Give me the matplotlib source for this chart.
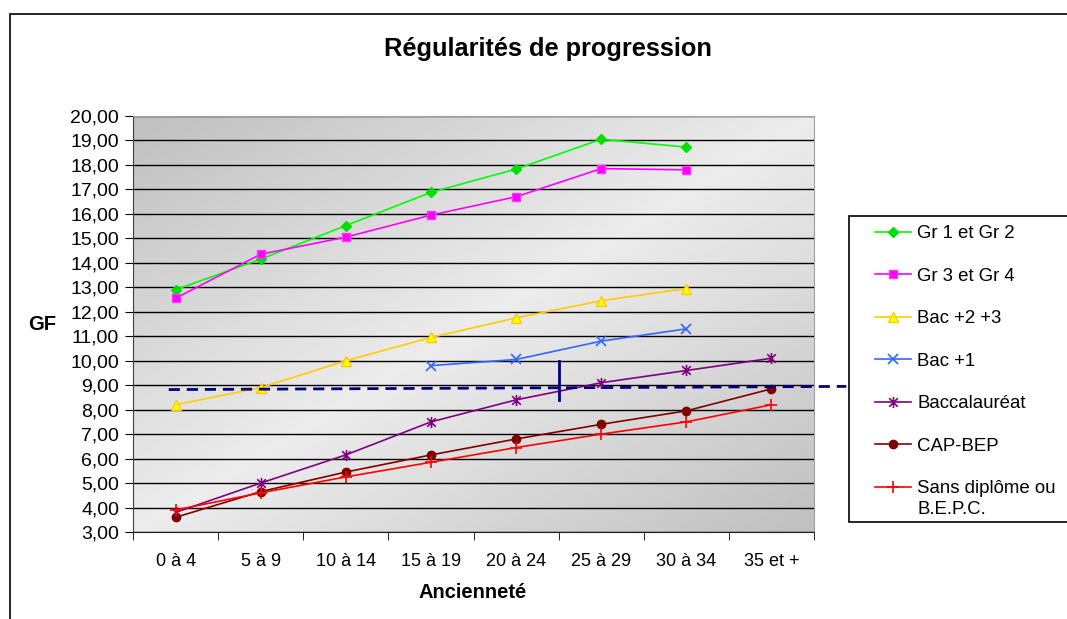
import numpy as np
import matplotlib
matplotlib.use('Agg')
import matplotlib.pyplot as plt
from matplotlib.path import Path
from matplotlib.patches import Rectangle
from matplotlib.ticker import FuncFormatter, MultipleLocator

plt.rcParams['font.family'] = ['Liberation Sans', 'DejaVu Sans']

# donnees
categories = ['0 à 4', '5 à 9', '10 à 14', '15 à 19', '20 à 24', '25 à 29', '30 à 34', '35 et +']
gr12 = [12.90, 14.15, 15.52, 16.88, 17.83, 19.05, 18.73, None]
gr34 = [12.55, 14.35, 15.05, 15.95, 16.70, 17.85, 17.80, None]
bac23 = [8.20, 8.90, 10.00, 10.95, 11.75, 12.45, 12.95, None]
bac1 = [None, None, None, 9.80, 10.05, 10.80, 11.30, None]
bacca = [3.80, 5.00, 6.15, 7.50, 8.40, 9.10, 9.60, 10.10]
capbep = [3.60, 4.65, 5.45, 6.15, 6.80, 7.40, 7.95, 8.85]
sansdip = [3.90, 4.60, 5.25, 5.85, 6.45, 7.00, 7.50, 8.20]

# ligne pointillee et trait vertical
seuil_x = [-0.08, 7.88]
seuil_y = [8.82, 8.95]
trait_x = 4.5
trait_y = [8.38, 10.0]

# marqueur etoile facon Excel (x + barre verticale)
star = Path([(-1, -1), (1, 1), (-1, 1), (1, -1), (0, -1.3), (0, 1.3)],
            [Path.MOVETO, Path.LINETO, Path.MOVETO, Path.LINETO, Path.MOVETO, Path.LINETO])

series = [
    ('Gr 1 et Gr 2', gr12, dict(color='#00ff00', marker='D', ms=5.5, mfc='#00e000', mec='#00e000')),
    ('Gr 3 et Gr 4', gr34, dict(color='#ff00ff', marker='s', ms=6, mfc='#ff00ff', mec='#ff33ff')),
    ('Bac +2 +3', bac23, dict(color='#ffcc00', marker='^', ms=7, mfc='#ffff00', mec='#ffcc00')),
    ('Bac +1', bac1, dict(color='#3366ff', marker='x', ms=7, mec='#3366ff', mew=1.2)),
    ('Baccalauréat', bacca, dict(color='#800080', marker=star, ms=8, mec='#800080', mew=1.2)),
    ('CAP-BEP', capbep, dict(color='#800000', marker='o', ms=6, mfc='#800000', mec='#800000')),
    ('Sans diplôme ou', sansdip, dict(color='#ff0000', marker='+', ms=9, mec='#ff0000', mew=1.2)),
]
suite_legende = 'B.E.P.C.'

W, H = 1067, 619
fig = plt.figure(figsize=(W / 100, H / 100), dpi=100)

# cadre du graphique
fig.patches.append(Rectangle((10 / W, -0.1), 1.2, 1.1 - 14 / H, transform=fig.transFigure,
                             fill=False, ec='black', lw=1.2, zorder=0))

pos = [133 / W, (H - 532) / H, (814 - 133) / W, (532 - 116) / H]

# fond degrade
bg = fig.add_axes(pos, zorder=0)
xx, yy = np.meshgrid(np.linspace(0, 1, 300), np.linspace(0, 1, 300))
t = (xx + yy) / 2
val = 0.75 + (0.925 - 0.75) * (1 - np.abs(2 * t - 1))
bg.imshow(val, cmap='gray', vmin=0, vmax=1, aspect='auto', extent=[0, 1, 0, 1], interpolation='bilinear')
bg.axis('off')

ax = fig.add_axes(pos, zorder=1)
ax.patch.set_alpha(0)
x = np.arange(len(categories))
handles = []
for name, vals, st in series:
    y = np.array([np.nan if v is None else v for v in vals], dtype=float)
    h, = ax.plot(x, y, lw=1.2, label=name, zorder=3, **st)
    handles.append(h)

ax.plot(seuil_x, seuil_y, color='#000080', lw=2, ls=(0, (4, 2.5)), clip_on=False, zorder=4)
ax.plot([trait_x, trait_x], trait_y, color='#000080', lw=2, zorder=4)

ax.set_xlim(-0.5, len(categories) - 0.5)
ax.set_ylim(3, 20)
ax.yaxis.set_major_locator(MultipleLocator(1))
ax.yaxis.set_major_formatter(FuncFormatter(lambda v, p: f'{v:.2f}'.replace('.', ',')))
ax.set_xticks(x)
ax.set_xticklabels(categories)
ax.set_xticks(np.arange(-0.5, len(categories)), minor=True)
ax.tick_params(axis='x', which='major', length=0, pad=15, labelsize=13)
ax.tick_params(axis='x', which='minor', length=6, direction='out', color='black')
ax.tick_params(axis='y', length=6, direction='out', labelsize=14, pad=4)
ax.grid(axis='y', color='black', lw=1)
ax.set_axisbelow(True)
for s in ['top', 'right']:
    ax.spines[s].set_color('#a0a0a0')
ax.spines['left'].set_color('#404040')
ax.spines['bottom'].set_color('#202020')

fig.text(548 / W, 1 - 49 / H, 'Régularités de progression', ha='center', va='center',
         fontsize=18.3, fontweight='bold')
fig.text(42 / W, 1 - 325 / H, 'GF', ha='center', va='center', fontsize=14.5, fontweight='bold')
fig.text(473 / W, 1 - 592 / H, 'Ancienneté', ha='center', va='center', fontsize=14.5, fontweight='bold')

# legende
fig.patches.append(Rectangle((849 / W, (H - 522) / H), 0.5, (522 - 216) / H, transform=fig.transFigure,
                             fill=True, fc='white', ec='black', lw=1.2, zorder=5))
leg = fig.legend(handles=handles, loc='upper left', bbox_to_anchor=(875 / W, 1 - 225 / H),
                 frameon=False, fontsize=13.4, labelspacing=1.37, handlelength=1.94, handletextpad=0.32,
                 borderpad=0, borderaxespad=0)
leg.set_zorder(6)

# deuxieme ligne de la derniere entree, sous le texte
fig.canvas.draw()
bb = leg.get_texts()[-1].get_window_extent()
fig.text(bb.x0 / W, (bb.y0 - 4) / H, suite_legende, ha='left', va='top', fontsize=13.4, zorder=7)

fig.savefig('out.png', dpi=100)
